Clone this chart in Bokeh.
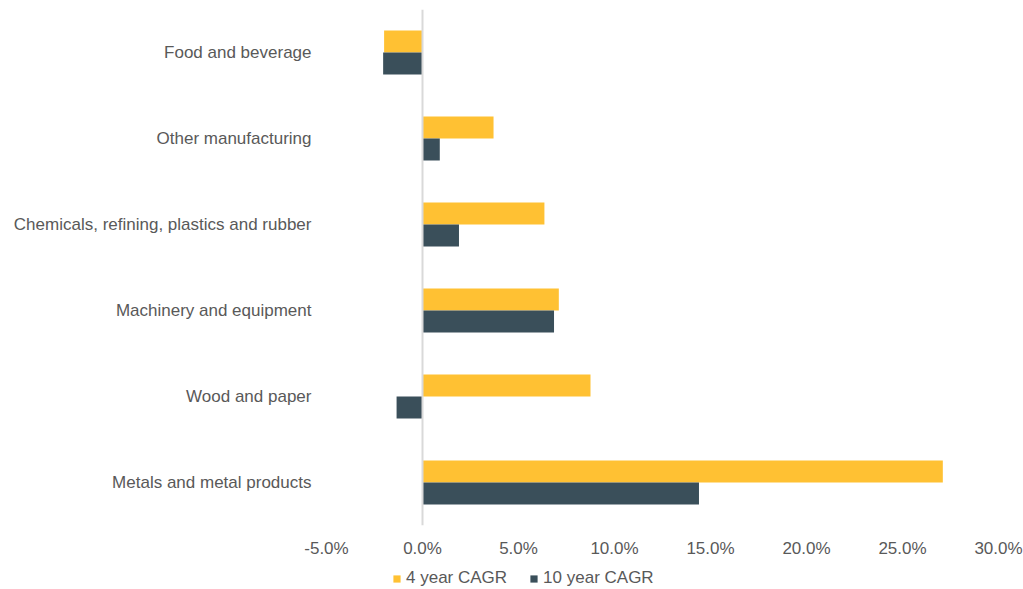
from bokeh.plotting import figure
from bokeh.layouts import column
from bokeh.models import (ColumnDataSource, FactorRange, Range1d, FixedTicker,
                          PrintfTickFormatter, Span, Legend, LegendItem)
from bokeh.transform import dodge
from bokeh.embed import file_html
from bokeh.resources import INLINE

categories = ["Food and beverage", "Other manufacturing",
              "Chemicals, refining, plastics and rubber",
              "Machinery and equipment", "Wood and paper",
              "Metals and metal products"]
cagr_4yr = [-2.0, 3.7, 6.35, 7.1, 8.75, 27.1]
cagr_10yr = [-2.05, 0.9, 1.9, 6.85, -1.35, 14.4]
x_ticks = [-5, 0, 5, 10, 15, 20, 25, 30]
series_names = ["4 year CAGR", "10 year CAGR"]

FONT = "Liberation Sans"
TXT = "#595959"
YELLOW = "#FFC133"
DARK = "#3A4F5A"

src = ColumnDataSource(dict(cat=categories, v4=cagr_4yr, v10=cagr_10yr))

p = figure(width=1023, height=565,
           y_range=FactorRange(factors=list(reversed(categories)), range_padding=0),
           x_range=Range1d(x_ticks[0], x_ticks[-1]),
           output_backend="svg", toolbar_location=None,
           min_border_left=326, min_border_right=25,
           min_border_top=9, min_border_bottom=40)
p.outline_line_color = None
p.xgrid.grid_line_color = None
p.ygrid.grid_line_color = None

r4 = p.hbar(y=dodge("cat", 0.128, range=p.y_range), left=0, right="v4",
            height=0.256, source=src, fill_color=YELLOW, line_color=None)
r10 = p.hbar(y=dodge("cat", -0.128, range=p.y_range), left=0, right="v10",
             height=0.256, source=src, fill_color=DARK, line_color=None)

p.add_layout(Span(location=0, dimension="height", line_color="#D9D9D9", line_width=2))

p.xaxis.ticker = FixedTicker(ticks=x_ticks)
p.xaxis.formatter = PrintfTickFormatter(format="%.1f%%")
for ax in (p.xaxis[0], p.yaxis[0]):
    ax.axis_line_color = None
    ax.major_tick_line_color = None
    ax.minor_tick_line_color = None
    ax.major_tick_out = 0
    ax.major_tick_in = 0
    ax.minor_tick_out = 0
    ax.major_label_text_font = FONT
    ax.major_label_text_font_size = "17px"
    ax.major_label_text_color = TXT
p.xaxis.major_label_standoff = 13
p.yaxis.major_label_standoff = 15

# legend strip below the chart (its zero-height bars lie outside its own
# x range, so only the legend swatches are visible)
lf = figure(width=1023, height=24, output_backend="svg", toolbar_location=None,
            x_axis_type=None, y_axis_type=None, min_border=0,
            x_range=Range1d(1000, 1001),
            y_range=FactorRange(factors=list(reversed(categories))))
lf.outline_line_color = None
lf.xgrid.grid_line_color = None
lf.ygrid.grid_line_color = None
l4 = lf.hbar(y="cat", left=0, right="v4", height=0, source=src,
             fill_color=YELLOW, line_color=None)
l10 = lf.hbar(y="cat", left=0, right="v10", height=0, source=src,
              fill_color=DARK, line_color=None)

legend = Legend(items=[LegendItem(label=series_names[0], renderers=[l4]),
                       LegendItem(label=series_names[1], renderers=[l10])],
                location=(66, 1), orientation="horizontal",
                border_line_color=None, background_fill_alpha=0,
                padding=0, margin=0, spacing=22,
                glyph_width=9, glyph_height=9, label_height=17,
                label_standoff=5,
                label_text_font=FONT, label_text_font_size="17px",
                label_text_color=TXT)
lf.add_layout(legend)

layout = column(p, lf, spacing=0)
open("out.html", "w").write(file_html(layout, INLINE))
